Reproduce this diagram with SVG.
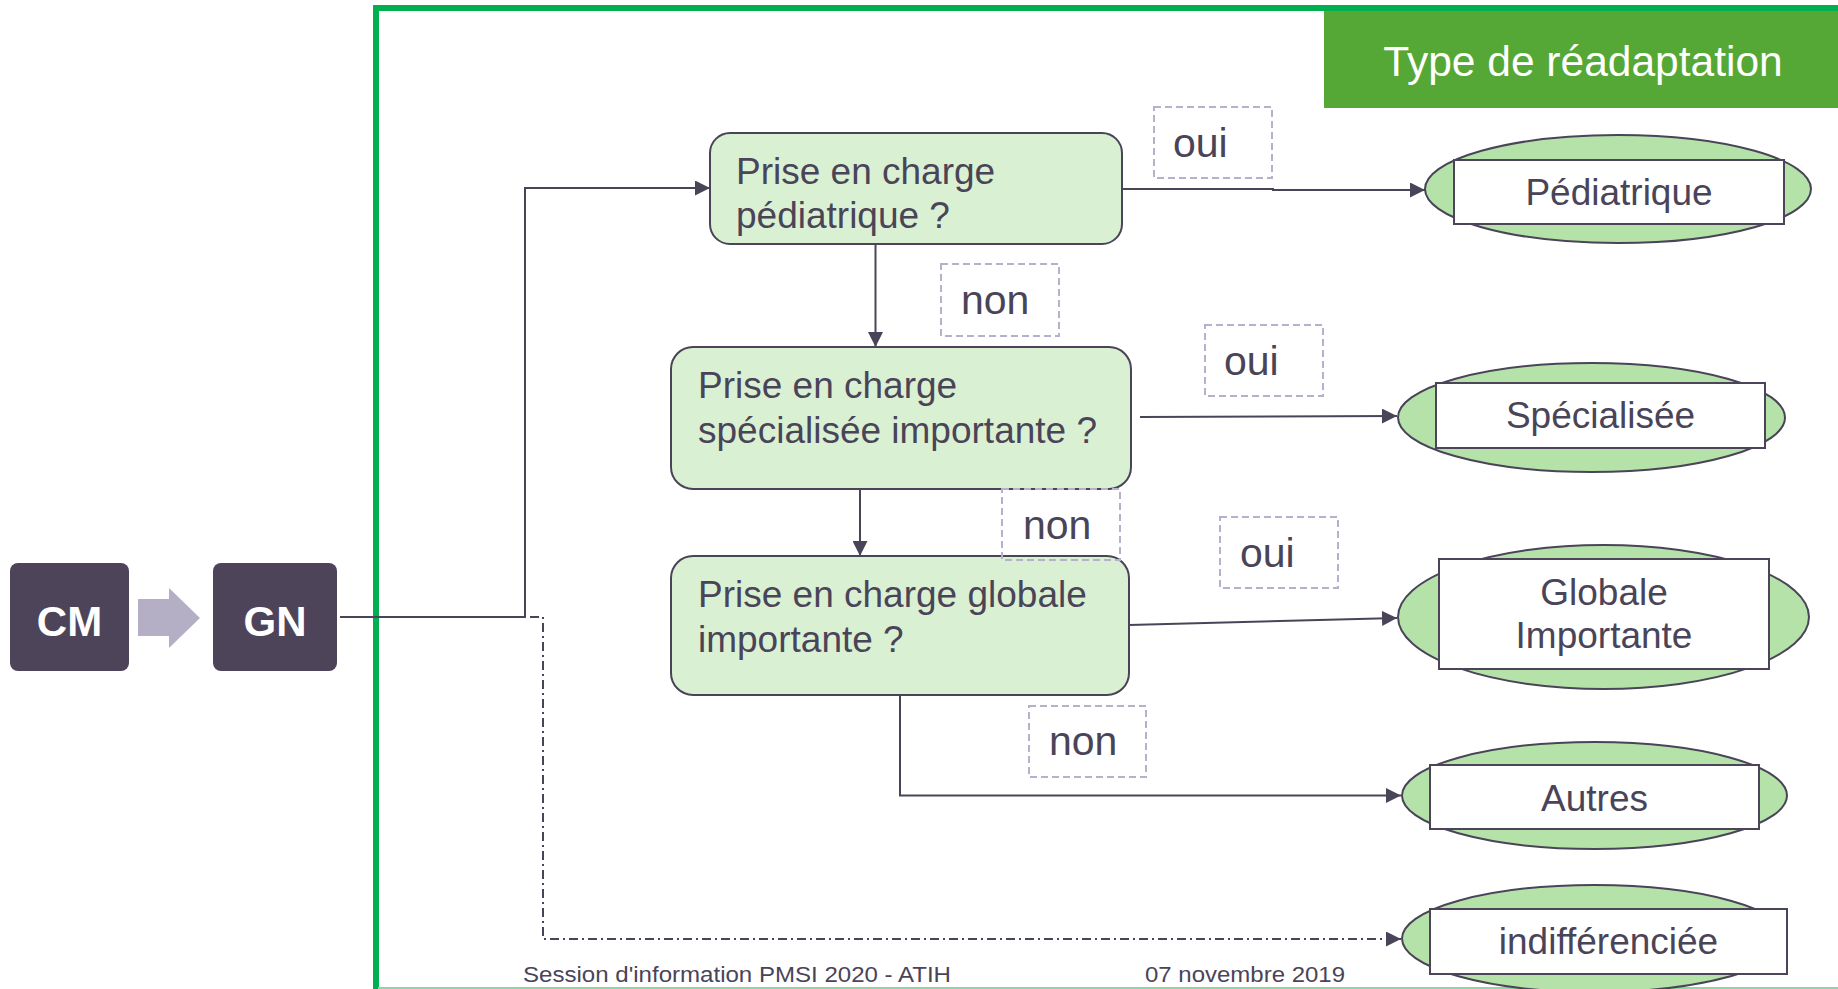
<svg xmlns="http://www.w3.org/2000/svg" width="1838" height="989" viewBox="0 0 1838 989">
  <style>
    .txt { font-family: "Liberation Sans", Arial, sans-serif; fill: #4A4458; }
    .q { font-size: 37px; }
    .lbl { font-size: 41px; }
    .res { font-size: 37px; text-anchor: middle; }
    .decision { fill: #DAF0D3; stroke: #4A4458; stroke-width: 2; }
    .oval { fill: #B5E2A8; stroke: #4A4458; stroke-width: 2; }
    .card { fill: #FFFFFF; stroke: #4E4459; stroke-width: 2; }
    .tag { fill: none; stroke: #B6B0CB; stroke-width: 2; stroke-dasharray: 7 4; }
    .dark { fill: #4E4459; }
    .white { font-family: "Liberation Sans", Arial, sans-serif; fill: #FFFFFF; font-weight: bold; font-size: 42px; text-anchor: middle; }
    .link { fill: none; stroke: #4A4458; stroke-width: 2; }
    .dashdot { fill: none; stroke: #4A4458; stroke-width: 2; stroke-dasharray: 9 4 2 4; }
  </style>
  <defs>
    <marker id="arrow" markerUnits="userSpaceOnUse" markerWidth="15" markerHeight="15" refX="15" refY="7.5" orient="auto">
      <path d="M0,0 L15,7.5 L0,15 Z" fill="#4A4458"/>
    </marker>
  </defs>

  <rect x="0" y="0" width="1838" height="989" fill="#FFFFFF"/>

  <!-- frame -->
  <path d="M376,989 V8 H1838" fill="none" stroke="#00B050" stroke-width="6"/>
  <line x1="378" y1="988" x2="1838" y2="988" stroke="#8ED6A8" stroke-width="2"/>

  <!-- title banner -->
  <g id="title">
    <rect x="1324" y="11" width="514" height="97" fill="#55A835"/>
    <text x="1583" y="76" font-family="Liberation Sans, Arial, sans-serif" font-size="42.5" fill="#FFFFFF" text-anchor="middle">Type de réadaptation</text>
  </g>

  <!-- CM -> GN -->
  <g id="cm">
    <rect x="10" y="563" width="119" height="108" rx="8" class="dark"/>
    <text x="69.5" y="636" class="white">CM</text>
  </g>
  <g id="cm-gn-arrow">
    <polygon points="138,599 169,599 169,588 200,618 169,648 169,636 138,636" fill="#B5AFC6"/>
  </g>
  <g id="gn">
    <rect x="213" y="563" width="124" height="108" rx="8" class="dark"/>
    <text x="275" y="636" class="white">GN</text>
  </g>

  <!-- connectors -->
  <g id="connectors">
    <polyline class="link" points="340,617 525,617 525,188 710,188" marker-end="url(#arrow)"/>
    <polyline class="dashdot" points="340,617 543,617 543,939 1401,939" marker-end="url(#arrow)"/>
    <polyline class="link" points="1122,189 1273,189 1273,190 1425,190" marker-end="url(#arrow)"/>
    <line class="link" x1="875.5" y1="244" x2="875.5" y2="347" marker-end="url(#arrow)"/>
    <line class="link" x1="1140" y1="417" x2="1397" y2="416" marker-end="url(#arrow)"/>
    <line class="link" x1="860" y1="483" x2="860" y2="556" marker-end="url(#arrow)"/>
    <line class="link" x1="1129" y1="625" x2="1397" y2="618" marker-end="url(#arrow)"/>
    <polyline class="link" points="900,694 900,795.5 1401,795.5" marker-end="url(#arrow)"/>
  </g>

  <!-- decisions -->
  <g id="q-pediatrique">
    <rect x="710" y="133" width="412" height="111" rx="20" class="decision"/>
    <text x="736" y="184" class="txt q">Prise en charge</text>
    <text x="736" y="228" class="txt q">pédiatrique ?</text>
  </g>
  <g id="q-specialisee">
    <rect x="671" y="347" width="460" height="142" rx="22" class="decision"/>
    <text x="698" y="398" class="txt q">Prise en charge</text>
    <text x="698" y="443" class="txt q">spécialisée importante ?</text>
  </g>
  <g id="q-globale">
    <rect x="671" y="556" width="458" height="139" rx="22" class="decision"/>
    <text x="698" y="607" class="txt q">Prise en charge globale</text>
    <text x="698" y="652" class="txt q">importante ?</text>
  </g>

  <!-- oui / non tags -->
  <g id="oui-1">
    <rect x="1154" y="107" width="118" height="71" class="tag"/>
    <text x="1173" y="157" class="txt lbl">oui</text>
  </g>
  <g id="non-1">
    <rect x="941" y="264" width="118" height="72" class="tag"/>
    <text x="961" y="314" class="txt lbl">non</text>
  </g>
  <g id="oui-2">
    <rect x="1205" y="325" width="118" height="71" class="tag"/>
    <text x="1224" y="375" class="txt lbl">oui</text>
  </g>
  <g id="non-2">
    <rect x="1002" y="489" width="118" height="71" class="tag"/>
    <text x="1023" y="539" class="txt lbl">non</text>
  </g>
  <g id="oui-3">
    <rect x="1220" y="517" width="118" height="71" class="tag"/>
    <text x="1240" y="567" class="txt lbl">oui</text>
  </g>
  <g id="non-3">
    <rect x="1029" y="706" width="117" height="71" class="tag"/>
    <text x="1049" y="755" class="txt lbl">non</text>
  </g>

  <!-- outcomes -->
  <g id="pediatrique">
    <ellipse cx="1618" cy="189" rx="193" ry="54" class="oval"/>
    <rect x="1454" y="160" width="330" height="64" class="card"/>
    <text x="1619" y="205" class="txt res">Pédiatrique</text>
  </g>
  <g id="specialisee">
    <ellipse cx="1591.5" cy="417.5" rx="193.5" ry="54.5" class="oval"/>
    <rect x="1436" y="383" width="329" height="65" class="card"/>
    <text x="1600.5" y="428" class="txt res">Spécialisée</text>
  </g>
  <g id="globale">
    <ellipse cx="1603.5" cy="617" rx="205.5" ry="72" class="oval"/>
    <rect x="1439" y="559" width="330" height="110" class="card"/>
    <text x="1604" y="605" class="txt res">Globale</text>
    <text x="1604" y="648" class="txt res">Importante</text>
  </g>
  <g id="autres">
    <ellipse cx="1594.5" cy="795.5" rx="192.5" ry="53.5" class="oval"/>
    <rect x="1430" y="765" width="329" height="64" class="card"/>
    <text x="1594.5" y="811" class="txt res">Autres</text>
  </g>
  <g id="indifferenciee">
    <ellipse cx="1594.5" cy="938.5" rx="192.5" ry="53.5" class="oval"/>
    <rect x="1430" y="909" width="357" height="65" class="card"/>
    <text x="1608.5" y="954" class="txt res">indifférenciée</text>
  </g>

  <!-- footer -->
  <g id="footer">
    <text x="523" y="982" class="txt" font-size="22" textLength="428" lengthAdjust="spacingAndGlyphs">Session d'information PMSI 2020 - ATIH</text>
    <text x="1145" y="982" class="txt" font-size="22" textLength="200" lengthAdjust="spacingAndGlyphs">07 novembre 2019</text>
  </g>
</svg>
